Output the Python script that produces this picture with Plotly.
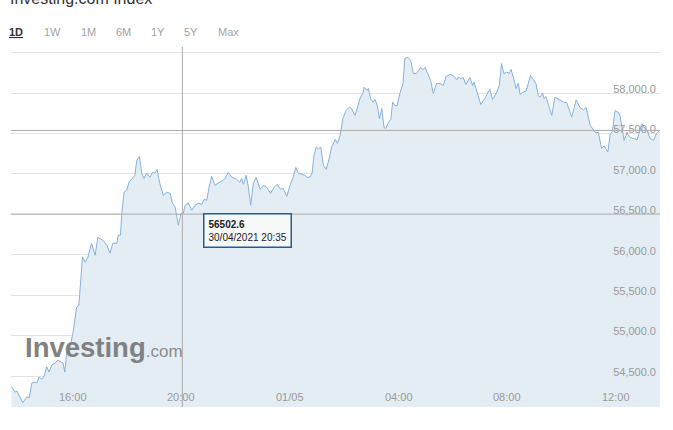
import plotly.graph_objects as go

# ---- data ----
times_apr30 = ["13:44","13:52","13:56","14:09","14:18","14:23","14:29","14:36","14:40","14:45",
               "14:51","14:56","15:02","15:07","15:13","15:20","15:27","15:33","15:38","15:42",
               "15:46","15:53","16:00","16:08","16:13","16:21","16:27","16:33","16:41","16:49",
               "16:55","17:06","17:15","17:22","17:28","17:37","17:40","17:45","17:48","17:53",
               "17:59","18:04","18:12","18:17","18:21","18:27","18:32","18:37","18:43","18:50",
               "18:56","19:01","19:06","19:12","19:20","19:27","19:35","19:40","19:46","19:53",
               "19:59","20:04","20:08","20:15","20:23","20:30","20:37","20:45","20:50","20:56",
               "21:01","21:07","21:14","21:21","21:32","21:38","21:43","21:51","22:02","22:09",
               "22:13","22:17","22:23","22:28","22:33","22:39","22:45","22:54","23:01","23:08",
               "23:17","23:25","23:32","23:39","23:45","23:53"]
values_apr30 = [54367,54302,54314,54170,54244,54228,54413,54425,54413,54487,
                54462,54499,54614,54549,54635,54660,54697,54672,54660,54549,
                54783,54857,55030,55351,55376,55973,55907,55969,56142,55994,
                56216,56179,56117,56018,56142,56142,56241,56241,56512,56775,
                56796,56899,56948,56982,57167,57216,57006,56945,57010,56957,
                57022,57006,57056,56883,56735,56775,56759,56636,56590,56364,
                56512,56512,56611,56640,56549,56611,56636,56624,56685,56673,
                56837,56969,56858,56887,56920,56957,57019,56961,56932,56895,
                56945,56871,56982,56837,56611,56883,56957,56809,56858,56837,
                56759,56837,56871,56809,56821,56722]

times_may01 = ["00:00","00:07","00:13","00:18","00:26","00:33","00:38","00:44","00:49","00:53",
               "00:58","01:03","01:08","01:14","01:20","01:27","01:32","01:40","01:45","01:51",
               "01:57","02:04","02:11","02:16","02:24","02:29","02:35","02:41","02:44","02:50",
               "02:53","02:59","03:04","03:08","03:13","03:18","03:23","03:28","03:32","03:37",
               "03:43","03:47","03:52","03:57","04:03","04:10","04:14","04:20","04:27","04:33",
               "04:40","04:49","04:54","04:59","05:06","05:11","05:17","05:24","05:32","05:39",
               "05:45","05:54","06:01","06:09","06:12","06:20","06:23","06:29","06:38","06:44",
               "06:47","06:54","07:02","07:11","07:22","07:28","07:36","07:43","07:48","07:53",
               "07:59","08:05","08:09","08:14","08:20","08:25","08:29","08:35","08:42","08:47",
               "08:52","08:58","09:04","09:09","09:13","09:19","09:22","09:26","09:29","09:39",
               "09:46","09:56","10:05","10:12","10:23","10:33","10:41","10:49","10:55","11:04",
               "11:11","11:17","11:22","11:29","11:35","11:43","11:48","11:53","11:59","12:06",
               "12:10","12:14","12:19","12:25","12:32","12:39","12:48","12:58","13:03","13:10",
               "13:16","13:24","13:31","13:38"]
values_may01 = [56858,56961,57080,57010,56994,56982,56957,56961,57010,57229,
                57331,57311,57331,57105,57056,57192,57331,57426,57377,57476,
                57686,57784,57825,57809,57723,57809,57933,57994,58072,58031,
                58056,57920,57887,57920,57846,57686,57809,57574,57562,57628,
                57673,57887,57846,57846,57994,58118,58427,58443,58402,58241,
                58241,58315,58291,58315,58229,58155,57994,58118,58118,58093,
                58204,58229,58217,58167,58192,58180,58192,58106,58192,58093,
                58134,57994,57859,57933,58044,57920,57994,58093,58365,58241,
                58257,58245,58291,58196,58056,58122,57982,58010,58023,58118,
                58217,58167,58118,57970,57949,57998,57933,57957,57908,57723,
                57949,57920,57887,57883,57702,57914,57825,57791,57821,57599,
                57544,57504,57516,57315,57346,57269,57482,57531,57784,57760,
                57723,57578,57414,57504,57451,57439,57423,57620,57578,57537,
                57439,57414,57504,57537]

x_tick_vals = ["2021-04-30 16:00", "2021-04-30 20:00", "2021-05-01 00:00",
               "2021-05-01 04:00", "2021-05-01 08:00", "2021-05-01 12:00"]
x_tick_text = ["16:00", "20:00", "01/05", "04:00", "08:00", "12:00"]
y_tick_vals = [54500, 55000, 55500, 56000, 56500, 57000, 57500, 58000, 58500]
y_tick_text = ["54,500.0", "55,000.0", "55,500.0", "56,000.0", "56,500.0",
               "57,000.0", "57,500.0", "58,000.0", ""]
range_buttons = ["1D", "1W", "1M", "6M", "1Y", "5Y", "Max"]

hover_time = "2021-04-30 20:02"
hover_value = 56502.6
hover_label = "30/04/2021 20:35"
last_value = values_may01[-1]

times = ["2021-04-30 " + t for t in times_apr30] + ["2021-05-01 " + t for t in times_may01]
values = values_apr30 + values_may01

FONT = "Liberation Sans, Arial, sans-serif"
W, H = 673, 430
ML, MR, MT, MB = 11, 13, 47, 23

fig = go.Figure()
fig.add_trace(go.Scatter(
    x=times, y=values, mode="lines",
    line=dict(color="#86b2de", width=1),
    fill="tozeroy", fillcolor="#e4edf3",
    hoverinfo="skip", showlegend=False,
))

fig.update_layout(
    width=W, height=H,
    margin=dict(l=ML, r=MR, t=MT, b=MB, pad=0),
    paper_bgcolor="white", plot_bgcolor="white",
    font=dict(family=FONT, size=11, color="#999999"),
    showlegend=False,
    xaxis=dict(
        type="date",
        range=["2021-04-30 13:42:54", "2021-05-01 13:38:24"],
        tickvals=x_tick_vals, showticklabels=False, ticks="",
        showgrid=False, zeroline=False, showline=False,
        fixedrange=True,
    ),
    yaxis=dict(
        side="right",
        range=[54117, 58569],
        tickvals=y_tick_vals, ticktext=y_tick_text,
        ticklabelposition="inside", ticks="",
        ticklabelshift=-4, ticklabelstandoff=1,
        showgrid=True, gridcolor="#e3e3e3", gridwidth=1,
        zeroline=False, showline=False,
        tickfont=dict(family=FONT, size=11, color="#9a9a9a"),
        fixedrange=True,
    ),
)

shapes = [
    # last price line
    dict(type="line", xref="paper", x0=0, x1=1, yref="y", y0=last_value, y1=last_value,
         line=dict(color="#ababab", width=1), layer="above"),
    # crosshair horizontal
    dict(type="line", xref="paper", x0=0, x1=1, yref="y", y0=hover_value, y1=hover_value,
         line=dict(color="#ababab", width=1), layer="above"),
    # crosshair vertical
    dict(type="line", xref="x", x0=hover_time, x1=hover_time, yref="paper", y0=0, y1=1,
         line=dict(color="#ababab", width=1), layer="above"),
]
fig.update_layout(shapes=shapes)

annotations = []
# x tick labels (drawn inside the plot, at the axis tick positions)
for tv, tt in zip(x_tick_vals, x_tick_text):
    annotations.append(dict(
        x=tv, y=0, xref="x", yref="paper", xanchor="center", yanchor="middle",
        yshift=10, text=tt, showarrow=False,
        font=dict(family=FONT, size=11, color="#9a9a9a"),
    ))
# tooltip
annotations.append(dict(
    x=hover_time, y=hover_value, xref="x", yref="y",
    xanchor="left", yanchor="top", xshift=21, yshift=1,
    text="<b>56502.6</b><br>" + hover_label, align="left", showarrow=False,
    font=dict(family=FONT, size=10, color="#222222"),
    bgcolor="#f7f8f8", bordercolor="#1d5f96", borderwidth=1.5, borderpad=4,
))
# watermark
annotations.append(dict(
    x=(23 - ML) / (W - ML - MR), y=(H - MB - 347) / (H - MT - MB),
    xref="paper", yref="paper", xanchor="left", yanchor="middle",
    text="<b>Investing</b><span style='font-size:17px;color:#8a8c8e'>.com</span>",
    showarrow=False, font=dict(family=FONT, size=27.5, color="#7f8183"),
))
# range selector
btn_x = [16, 52, 88.5, 123, 158, 190.5, 228]
for lab, bx in zip(range_buttons, btn_x):
    sel = lab == "1D"
    annotations.append(dict(
        x=(bx - ML) / (W - ML - MR), y=1, xref="paper", yref="paper",
        xanchor="center", yanchor="middle", yshift=MT - 31.5,
        text=("<b><u>" + lab + "</u></b>") if sel else lab, showarrow=False,
        font=dict(family=FONT, size=11, color="#333333" if sel else "#a3a3a3"),
    ))
# title, partly above the top edge as in the reference
annotations.append(dict(
    x=(8 - ML) / (W - ML - MR), y=1, xref="paper", yref="paper",
    xanchor="left", yanchor="bottom", yshift=MT - 9,
    text="Investing.com Index", showarrow=False,
    font=dict(family=FONT, size=16, color="#333333"),
))
fig.update_layout(annotations=annotations)

fig.write_html("out.html", config={"displayModeBar": False},
               post_script="document.body.style.margin='0';document.body.style.overflow='hidden';")
